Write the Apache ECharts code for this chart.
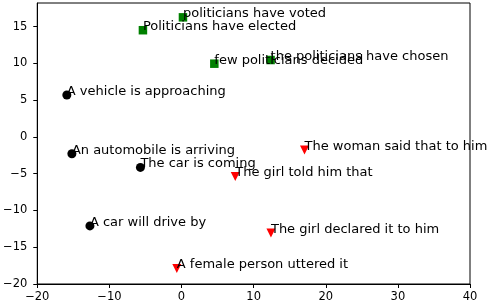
<!DOCTYPE html>
<html><head><meta charset="utf-8">
<script src="https://cdn.jsdelivr.net/npm/echarts@6/dist/echarts.min.js"></script>
<style>html,body{margin:0;padding:0;background:#fff}#c{width:488px;height:304px}</style>
</head><body><div id="c"></div>
<script>
const carLabels = ["A vehicle is approaching", "An automobile is arriving", "The car is coming", "A car will drive by"];
const carX = [-15.9, -15.2, -5.7, -12.7];
const carY = [5.7, -2.3, -4.15, -12.1];

const polLabels = ["Politicians have elected", "politicians have voted", "few politicians decided", "the politicians have chosen"];
const polX = [-5.35, 0.2, 4.55, 12.35];
const polY = [14.5, 16.25, 9.95, 10.45];

const girlLabels = ["The woman said that to him", "The girl told him that", "The girl declared it to him", "A female person uttered it"];
const girlX = [17.05, 7.45, 12.4, -0.65];
const girlY = [-1.8, -5.4, -13.05, -17.9];

const xTicks = [-20, -10, 0, 10, 20, 30, 40];
const yTicks = [-20, -15, -10, -5, 0, 5, 10, 15];

const FONT = 'DejaVu Sans';
function mk(xs, ys, names) { return xs.map((x, i) => ({ value: [x, ys[i]], name: names[i] })); }
function series(data, symbol, size, color) {
  return {
    type: 'scatter', data, symbol, symbolSize: size,
    itemStyle: { color, opacity: 1 },
    label: {
      show: true, formatter: p => p.name, position: [size / 2, size / 2],
      align: 'left', verticalAlign: 'bottom', offset: [0, 3],
      fontFamily: FONT, fontSize: 13, color: '#000'
    },
    emphasis: { disabled: true }, animation: false
  };
}
const chart = echarts.init(document.getElementById('c'));
chart.setOption({
  animation: false,
  grid: { left: 36, right: 18, top: 3, bottom: 20, show: true, borderColor: '#000', borderWidth: 1, backgroundColor: 'transparent' },
  xAxis: {
    type: 'value', min: -20, max: 40, interval: 10,
    axisLine: { show: true, onZero: false, lineStyle: { color: '#000' } },
    axisTick: { show: true, length: 4, lineStyle: { color: '#000' }, customValues: xTicks },
    axisLabel: { fontFamily: FONT, fontSize: 11.5, color: '#000', margin: 7, customValues: xTicks,
      formatter: v => String(v).replace('-', '\u2212') },
    splitLine: { show: false }
  },
  yAxis: {
    type: 'value', min: -20, max: 18.2, interval: 5,
    axisLine: { show: true, onZero: false, lineStyle: { color: '#000' } },
    axisTick: { show: true, length: 4, lineStyle: { color: '#000' }, customValues: yTicks },
    axisLabel: { fontFamily: FONT, fontSize: 11.5, color: '#000', margin: 10, customValues: yTicks,
      formatter: v => String(v).replace('-', '\u2212') },
    splitLine: { show: false }
  },
  series: [
    series(mk(carX, carY, carLabels), 'circle', 9, '#000000'),
    series(mk(polX, polY, polLabels), 'rect', 8.5, '#008000'),
    series(mk(girlX, girlY, girlLabels), 'path://M0,0 L10,0 L5,9 Z', 9, '#ff0000')
  ]
});
</script></body></html>
